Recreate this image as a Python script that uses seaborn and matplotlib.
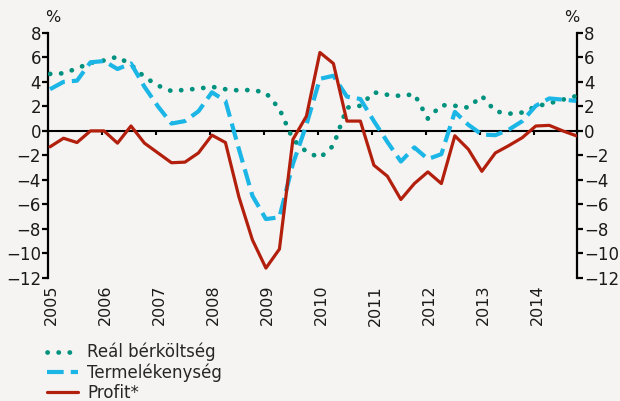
import numpy as np
import matplotlib
matplotlib.use("Agg")
import matplotlib.pyplot as plt
import seaborn as sns

# --- Données (trimestrielles, 2005 Q1 - 2014 Q4) ---
real_wage_cost = [4.65, 4.7, 5.1, 5.55, 5.75, 6.05, 5.4, 4.4, 3.7, 3.25,
                  3.35, 3.45, 3.6, 3.4, 3.3, 3.35, 3.1, 1.8, -0.7, -1.7,
                  -2.2, -1.2, 1.9, 2.05, 3.15, 2.95, 2.85, 3.0, 1.0, 2.1,
                  2.05, 1.9, 2.85, 1.6, 1.4, 1.5, 2.0, 2.25, 2.55, 2.85]
productivity = [3.4, 4.0, 4.1, 5.6, 5.7, 5.05, 5.5, 3.6, 2.0, 0.6,
                0.8, 1.6, 3.15, 2.45, -1.5, -5.3, -7.2, -7.05, -2.7, 0.5,
                4.25, 4.5, 2.8, 2.6, 0.8, -0.9, -2.5, -1.35, -2.3, -1.9,
                1.55, 0.5, -0.3, -0.35, 0.1, 0.8, 2.05, 2.65, 2.55, 2.45]
profit = [-1.3, -0.6, -0.95, 0.0, 0.0, -1.0, 0.4, -1.0, -1.8, -2.6,
          -2.55, -1.8, -0.35, -0.95, -5.4, -8.9, -11.2, -9.65, -0.7, 1.2,
          6.4, 5.5, 0.8, 0.8, -2.8, -3.7, -5.6, -4.3, -3.35, -4.3,
          -0.4, -1.5, -3.3, -1.8, -1.2, -0.55, 0.4, 0.45, 0.0, -0.4]
years = list(range(2005, 2015))
series_labels = ["Reál bérköltség", "Termelékenység", "Profit*"]

# --- Style ---
BG     = "#F5F4F2"
GREEN  = "#00927F"
BLUE   = "#1BB6E6"
RED    = "#B21F0C"
TXT    = "#1a1a1a"
FS     = 12

sns.set_style("white")
plt.rcParams["font.family"] = ["DejaVu Sans"]

quarters = np.arange(len(profit))
x = 2005 + (quarters + 0.15) / 4

fig = plt.figure(figsize=(6.2, 4.01), dpi=100, facecolor=BG)
ax = fig.add_axes([0.0774, 0.307, 0.8532, 0.611], facecolor=BG)

sns.lineplot(x=x, y=real_wage_cost, ax=ax, color=GREEN, lw=3.4,
             linestyle=(0, (0.05, 2.3)), solid_capstyle="round",
             dash_capstyle="round", label=series_labels[0], legend=False, zorder=3)
sns.lineplot(x=x, y=productivity, ax=ax, color=BLUE, lw=3.0,
             linestyle=(0, (4.0, 1.7)), label=series_labels[1], legend=False, zorder=4)
sns.lineplot(x=x, y=profit, ax=ax, color=RED, lw=2.3,
             label=series_labels[2], legend=False, zorder=5)

ax.set_xlim(2005, 2014.8)
ax.set_ylim(-12, 8)
ax.set_yticks(range(-12, 9, 2))
ax.set_xlabel("")
ax.set_ylabel("")

# axes y gauche / droite
for side in ["left", "right"]:
    ax.spines[side].set_visible(True)
    ax.spines[side].set_color("black")
    ax.spines[side].set_linewidth(1.6)
ax.spines["top"].set_visible(False)
ax.spines["bottom"].set_position(("data", 0))
ax.spines["bottom"].set_linewidth(1.5)
ax.spines["bottom"].set_color("black")
ax.spines["bottom"].set_zorder(2)

ax.tick_params(axis="y", which="both", left=True, right=True,
               labelleft=True, labelright=True, direction="out",
               length=4, width=1.6, color="black", labelsize=FS,
               labelcolor=TXT, pad=1)

ax.set_xticks(years)
ax.tick_params(axis="x", bottom=True, labelbottom=False, direction="out",
               length=3, width=1.5, color="black")

# étiquettes des années en bas
sec = ax.secondary_xaxis("bottom")
sec.spines["bottom"].set_visible(False)
sec.set_xticks([y + 0.07 for y in years])
sec.set_xticklabels([str(y) for y in years], rotation=90, fontsize=11.5, color=TXT)
sec.tick_params(length=0, pad=5)

# unités
fig.text(0.0774 + 0.008, 0.937, "%", fontsize=11.5, ha="center", va="bottom", color=TXT)
fig.text(0.9306 - 0.008, 0.937, "%", fontsize=11.5, ha="center", va="bottom", color=TXT)

# légende
handles, labels = ax.get_legend_handles_labels()
fig.legend(handles, labels, loc="upper left", bbox_to_anchor=(0.076, 0.145),
           frameon=False, fontsize=12, handlelength=1.85, handletextpad=0.55,
           labelspacing=0.12, borderpad=0, borderaxespad=0)

fig.savefig("out.png", dpi=100, facecolor=BG)
